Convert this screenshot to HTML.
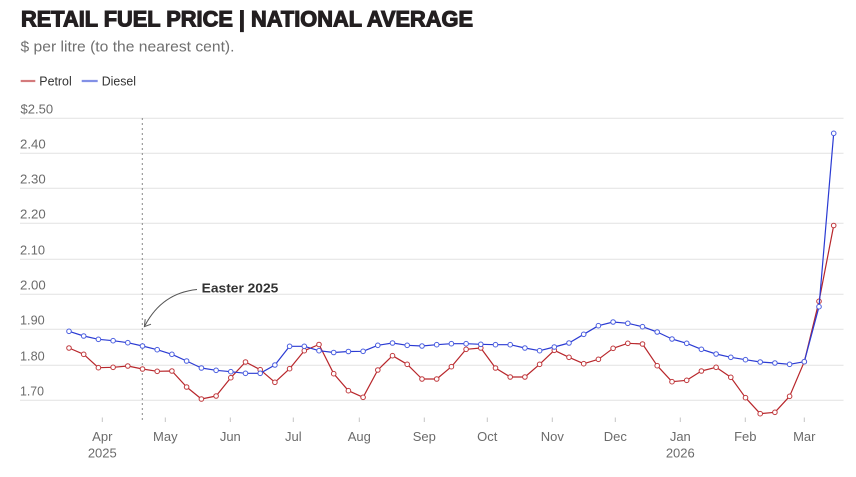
<!DOCTYPE html>
<html><head><meta charset="utf-8"><style>
html,body{margin:0;padding:0;background:#fff;}
svg{display:block;}
text{font-family:"Liberation Sans",Arial,sans-serif;}
</style></head><body>
<svg width="856" height="477" viewBox="0 0 856 477" xmlns="http://www.w3.org/2000/svg">
<defs>
<marker id="mb" markerUnits="userSpaceOnUse" markerWidth="8" markerHeight="8" refX="4" refY="4" overflow="visible">
<circle cx="4" cy="4" r="2.3" fill="#fff" stroke="#4a5ee0" stroke-width="1"/>
</marker>
<marker id="mr" markerUnits="userSpaceOnUse" markerWidth="8" markerHeight="8" refX="4" refY="4" overflow="visible">
<circle cx="4" cy="4" r="2.3" fill="#fff" stroke="#c0393d" stroke-width="1"/>
</marker>
</defs>
<text x="21" y="26.5" font-size="22" font-weight="bold" fill="#231f20" stroke="#231f20" stroke-width="1.1" textLength="452" lengthAdjust="spacingAndGlyphs">RETAIL FUEL PRICE | NATIONAL AVERAGE</text>
<text x="20.5" y="51.7" font-size="15" fill="#707070" textLength="214" lengthAdjust="spacingAndGlyphs">$ per litre (to the nearest cent).</text>
<line x1="20.7" y1="81" x2="35.3" y2="81" stroke="#d47a7c" stroke-width="2.2"/>
<text x="39.3" y="85.5" font-size="12.5" fill="#333" textLength="32.4" lengthAdjust="spacingAndGlyphs">Petrol</text>
<line x1="81.7" y1="81" x2="97.7" y2="81" stroke="#8290e6" stroke-width="2.2"/>
<text x="101.7" y="85.5" font-size="12.5" fill="#333" textLength="34.3" lengthAdjust="spacingAndGlyphs">Diesel</text>
<g stroke="#e2e2e2" stroke-width="1">
<line x1="20" y1="118.3" x2="843.5" y2="118.3"/>
<line x1="20" y1="153.3" x2="843.5" y2="153.3"/>
<line x1="20" y1="188.3" x2="843.5" y2="188.3"/>
<line x1="20" y1="223.3" x2="843.5" y2="223.3"/>
<line x1="20" y1="259.3" x2="843.5" y2="259.3"/>
<line x1="20" y1="294.3" x2="843.5" y2="294.3"/>
<line x1="20" y1="329.3" x2="843.5" y2="329.3"/>
<line x1="20" y1="365.3" x2="843.5" y2="365.3"/>
<line x1="20" y1="400.3" x2="843.5" y2="400.3"/>
</g>
<g font-size="13" fill="#6b6b6b">
<text x="20.5" y="113.3" textLength="32.6" lengthAdjust="spacingAndGlyphs">$2.50</text>
<text x="20" y="148.3" textLength="25.7" lengthAdjust="spacingAndGlyphs">2.40</text>
<text x="20" y="183.3" textLength="25.7" lengthAdjust="spacingAndGlyphs">2.30</text>
<text x="20" y="218.3" textLength="25.7" lengthAdjust="spacingAndGlyphs">2.20</text>
<text x="20" y="254.3" textLength="25" lengthAdjust="spacingAndGlyphs">2.10</text>
<text x="20" y="289.3" textLength="25.7" lengthAdjust="spacingAndGlyphs">2.00</text>
<text x="20" y="324.3" textLength="24.7" lengthAdjust="spacingAndGlyphs">1.90</text>
<text x="20" y="360.3" textLength="24.7" lengthAdjust="spacingAndGlyphs">1.80</text>
<text x="20" y="395.3" textLength="24" lengthAdjust="spacingAndGlyphs">1.70</text>
</g>
<line x1="142.3" y1="118" x2="142.3" y2="420" stroke="#888" stroke-width="1" stroke-dasharray="2,3"/>
<g stroke="#c4c4c4" stroke-width="1">
<line x1="102.3" y1="417.5" x2="102.3" y2="422"/>
<line x1="165.3" y1="417.5" x2="165.3" y2="422"/>
<line x1="230.3" y1="417.5" x2="230.3" y2="422"/>
<line x1="293.3" y1="417.5" x2="293.3" y2="422"/>
<line x1="359.3" y1="417.5" x2="359.3" y2="422"/>
<line x1="424.3" y1="417.5" x2="424.3" y2="422"/>
<line x1="487.3" y1="417.5" x2="487.3" y2="422"/>
<line x1="552.3" y1="417.5" x2="552.3" y2="422"/>
<line x1="615.3" y1="417.5" x2="615.3" y2="422"/>
<line x1="680.3" y1="417.5" x2="680.3" y2="422"/>
<line x1="745.3" y1="417.5" x2="745.3" y2="422"/>
<line x1="804.3" y1="417.5" x2="804.3" y2="422"/>
</g>
<g font-size="13" fill="#6b6b6b" text-anchor="middle">
<text x="102.3" y="441">Apr</text>
<text x="165.3" y="441">May</text>
<text x="230.3" y="441">Jun</text>
<text x="293.3" y="441">Jul</text>
<text x="359.3" y="441">Aug</text>
<text x="424.3" y="441">Sep</text>
<text x="487.3" y="441">Oct</text>
<text x="552.3" y="441">Nov</text>
<text x="615.3" y="441">Dec</text>
<text x="680.3" y="441">Jan</text>
<text x="745.3" y="441">Feb</text>
<text x="804.3" y="441">Mar</text>
<text x="102.3" y="457.5">2025</text>
<text x="680.3" y="457.5">2026</text>
</g>
<text x="201.7" y="292.7" font-size="13" font-weight="bold" fill="#333" textLength="76.6" lengthAdjust="spacingAndGlyphs">Easter 2025</text>
<path d="M197,289.5 Q162,293 145,325.5" fill="none" stroke="#555" stroke-width="1"/>
<path d="M145.2,319.2 L144.4,326.6 L151,324.2" fill="none" stroke="#555" stroke-width="1"/>
<polyline fill="none" stroke="#b8262b" stroke-width="1.2" stroke-linejoin="round" marker-start="url(#mr)" marker-mid="url(#mr)" marker-end="url(#mr)" points="69.0,348 83.7,354.3 98.4,367.7 113.1,367.3 127.8,366 142.5,369 157.2,371.3 171.9,371 186.6,387 201.4,399 216.1,396 230.8,377.7 245.5,362 260.2,369.7 274.9,382.3 289.6,368.7 304.3,350.7 319.0,344.5 333.7,373.7 348.4,390.7 363.1,397.3 377.8,370 392.5,355.7 407.2,364.3 422.0,379 436.7,379 451.4,366.7 466.1,349.3 480.8,348 495.5,368 510.2,377 524.9,377 539.6,364.3 554.3,350.3 569.0,357.3 583.7,363.7 598.4,359.3 613.1,348.3 627.8,343.3 642.5,344 657.2,365.7 672.0,381.7 686.7,380.3 701.4,371 716.1,367.3 730.8,377.3 745.5,397.7 760.2,413.7 774.9,412.3 789.6,396.3 804.3,361.7 819.0,301.3 833.7,225.5"/>
<polyline fill="none" stroke="#2b3bd3" stroke-width="1.2" stroke-linejoin="round" marker-start="url(#mb)" marker-mid="url(#mb)" marker-end="url(#mb)" points="69.0,331.3 83.7,336 98.4,339.3 113.1,340.7 127.8,342.7 142.5,346 157.2,349.7 171.9,354.3 186.6,361 201.4,368 216.1,370.3 230.8,371.7 245.5,373.3 260.2,373.3 274.9,365 289.6,346.3 304.3,346.3 319.0,350.7 333.7,352.5 348.4,351.5 363.1,351.3 377.8,345.3 392.5,343 407.2,345.3 422.0,346 436.7,344.7 451.4,343.7 466.1,343.7 480.8,344.3 495.5,344.7 510.2,344.7 524.9,348 539.6,350.7 554.3,347 569.0,343 583.7,334.3 598.4,325.7 613.1,322 627.8,323.3 642.5,326.7 657.2,332 672.0,339 686.7,343.3 701.4,349.3 716.1,354 730.8,357.3 745.5,359.7 760.2,362 774.9,363 789.6,364.3 804.3,361.7 819.0,306.7 833.7,133.3"/>
</svg>
</body></html>
